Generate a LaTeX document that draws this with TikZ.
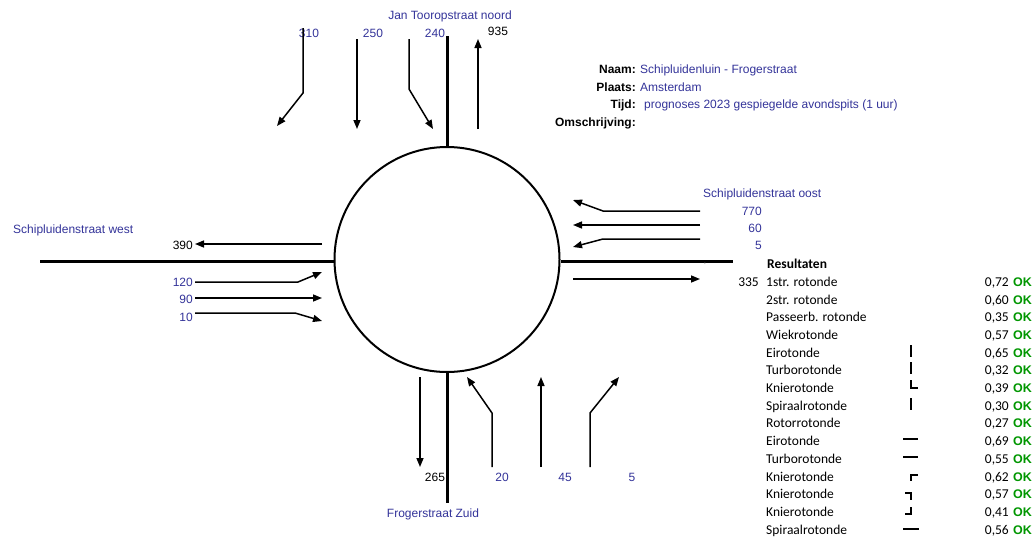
\documentclass[tikz,border=0pt]{standalone}
\usepackage{fontspec}
\setmainfont{Liberation Sans}
\newfontfamily\tablefont{Carlito}
\usetikzlibrary{arrows.meta}
\definecolor{labelblue}{RGB}{51,51,153}
\definecolor{okgreen}{RGB}{0,150,0}

\begin{document}
\begin{tikzpicture}[x=1pt,y=-1pt,
  lbl/.style={inner sep=0pt, text height=8.6pt, text depth=0pt, font=\fontsize{12}{14}\selectfont},
  blu/.style={lbl, text=labelblue},
  blk/.style={lbl, text=black},
  infokey/.style={lbl, anchor=east, font=\fontsize{12}{14}\selectfont\bfseries},
  infoval/.style={blu, anchor=west},
  tbl/.style={inner sep=0pt, text height=8.7pt, text depth=0pt, font=\fontsize{13.5}{16}\tablefont},
  okmark/.style={inner sep=0pt, text height=8.6pt, text depth=0pt, anchor=west, text=okgreen, font=\fontsize{12.5}{14}\selectfont\bfseries},
  road/.style={line width=3pt},
  flow/.style={line width=1.5pt, -{Triangle[length=9pt,width=7pt]}},
  typemark/.style={line width=2pt},
]
\useasboundingbox (0,0) rectangle (1036,541);

% roundabout and approach roads
\node[circle, draw, line width=2pt, minimum size=225pt, inner sep=0pt] (rot) at (447,259.5) {};
\coordinate (nEnd) at (447,36);
\coordinate (sEnd) at (447,503);
\coordinate (wEnd) at (40,261);
\coordinate (eEnd) at (733,261);
\draw[road] (rot.north) -- (nEnd);
\draw[road] (rot.south) -- (sEnd);
\draw[road] (wEnd) -- (wEnd -| rot.west);
\draw[road] (eEnd -| rot.east) -- (eEnd);

% north arm
\node[blu] (nName) at (450,15) {Jan Tooropstraat noord};
\node[blu] (n310) at (309,33) {310};
\node[blu] (n250) at (373,33) {250};
\node[blu] (n240) at (435,33) {240};
\node[blk] (n935) at (498,31) {935};
\draw[flow] (303,28) -- (303,93) -- (277,126);
\draw[flow] (357,39) -- (357,129);
\draw[flow] (409,39) -- (409,89) -- (433,129);
\draw[flow] (478,129) -- (478,39);

% east arm
\node[blu, anchor=west] (eName) at (703,193) {Schipluidenstraat oost};
\node[blu, anchor=east] (e770) at (762,211) {770};
\node[blu, anchor=east] (e60) at (762,228) {60};
\node[blu, anchor=east] (e5) at (762,245) {5};
\node[inner sep=0pt, font=\fontsize{8}{9}\selectfont, text=black!70] (comma) at (705,264) {,};
\draw[flow] (700,211) -- (603,211) -- (573,200);
\draw[flow] (700,225) -- (573,225);
\draw[flow] (700,239) -- (603,239) -- (573,247);
\draw[flow] (573,279) -- (700,279);

% west arm
\node[blu, anchor=west] (wName) at (13,229) {Schipluidenstraat west};
\node[blk, anchor=east] (w390) at (193,245) {390};
\node[blu, anchor=east] (w120) at (193,282) {120};
\node[blu, anchor=east] (w90) at (193,299) {90};
\node[blu, anchor=east] (w10) at (193,317) {10};
\draw[flow] (322,244) -- (195,244);
\draw[flow] (195,282) -- (298,282) -- (322,272);
\draw[flow] (195,298) -- (322,298);
\draw[flow] (195,313) -- (295,313) -- (322,321);

% south arm
\node[blu] (sName) at (433,513) {Frogerstraat Zuid};
\node[blk] (s265) at (435,477) {265};
\node[blu] (s20) at (502,477) {20};
\node[blu] (s45) at (565,477) {45};
\node[blu] (s5) at (632,477) {5};
\draw[flow] (420,377) -- (420,467);
\draw[flow] (492,467) -- (492,413) -- (467,377);
\draw[flow] (541,467) -- (541,377);
\draw[flow] (590,467) -- (590,413) -- (619,377);

% general information
\node[infokey] (kNaam) at (636,69) {Naam:};
\node[infokey] (kPlaats) at (636,87) {Plaats:};
\node[infokey] (kTijd) at (636,104) {Tijd:};
\node[infokey] (kOms) at (636,122) {Omschrijving:};
\node[infoval] (vNaam) at (640,69) {Schipluidenluin - Frogerstraat};
\node[infoval] (vPlaats) at (640,87) {Amsterdam};
\node[infoval] (vTijd) at (644,104) {prognoses 2023 gespiegelde avondspits (1 uur)};

% results per roundabout type
\node[tbl, anchor=west, font=\fontsize{13.5}{16}\tablefont\bfseries] (res) at (767,264) {Resultaten};
\node[tbl, anchor=east] (e335) at (759,282) {335};
\foreach \name/\val [count=\i from 0] in {%
  1str. rotonde/{0,72}, 2str. rotonde/{0,60}, Passeerb. rotonde/{0,35},
  Wiekrotonde/{0,57}, Eirotonde/{0,65}, Turborotonde/{0,32}, Knierotonde/{0,39},
  Spiraalrotonde/{0,30}, Rotorrotonde/{0,27}, Eirotonde/{0,69}, Turborotonde/{0,55},
  Knierotonde/{0,62}, Knierotonde/{0,57}, Knierotonde/{0,41}, Spiraalrotonde/{0,56}} {
  \node[tbl, anchor=west] (t\i) at (766,282+17.7*\i) {\name};
  \node[tbl, anchor=east] (v\i) at (1009,282+17.7*\i) {\val};
  \node[okmark] (ok\i) at (1013,282+17.7*\i) {OK};
}

% lane layout marks
\draw[typemark] (911,345) -- (911,357);
\draw[typemark] (911,362) -- (911,374);
\draw[typemark] (911,380) -- (911,388) -- (918,388);
\draw[typemark] (911,398) -- (911,410);
\draw[typemark] (903,439) -- (918,439);
\draw[typemark] (903,457) -- (918,457);
\draw[typemark] (918,475) -- (911,475) -- (911,481);
\draw[typemark] (905,493) -- (911,493) -- (911,500);
\draw[typemark] (911,507) -- (911,514) -- (905,514);
\draw[typemark] (903,529) -- (919,529);
\end{tikzpicture}
\end{document}
